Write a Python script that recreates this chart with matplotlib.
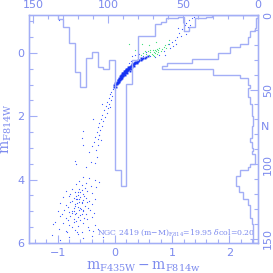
import matplotlib
matplotlib.use('Agg')
import matplotlib.pyplot as plt
from matplotlib.ticker import MultipleLocator

# colour histogram (top, counts hang down from the top edge)
ch_edges = [round(-1.0 + 0.1 * k, 1) for k in range(36)]
ch_counts = [3, 8, 19, 38, 48, 29, 25, 35, 36, 30,
             104, 115, 46, 30, 14, 14, 14, 6, 5, 2,
             2, 1, 11, 8, 2, 2, 1, 0, 0, 0,
             0, 0, 0, 0, 0]

# magnitude histogram (right, counts grow leftwards from the right edge)
mh_edges = [round(-1.2 + 0.1 * k, 1) for k in range(73)]
mh_counts = [0, 1, 1, 1, 2, 5, 5, 7, 7, 12,
             19, 19, 27, 27, 44, 61, 64, 30, 30, 12,
             7, 7, 5, 7, 7, 7, 5, 5, 4, 4,
             4, 4, 3, 3, 3, 4, 4, 4, 4, 5,
             4, 4, 3, 4, 2, 2, 2, 5, 7, 12,
             12, 15, 15, 15, 13, 13, 10, 10, 7, 7,
             5, 5, 5, 5, 4, 4, 3, 3, 3, 3,
             3, 3]

# blue horizontal branch band
hb_col = [0.00, 0.01, 0.02, 0.03, 0.04, 0.05, 0.05, 0.06, 0.07, 0.07, 0.08, 0.09, 0.09, 0.10, 0.10,
          0.11, 0.11, 0.12, 0.12, 0.13, 0.13, 0.14, 0.14, 0.15, 0.15, 0.16, 0.16, 0.17, 0.17, 0.18,
          0.18, 0.19, 0.19, 0.20, 0.20, 0.21, 0.21, 0.22, 0.22, 0.23, 0.23, 0.24, 0.25, 0.25, 0.26,
          0.27, 0.27, 0.28, 0.29, 0.30, 0.30, 0.31, 0.32, 0.33, 0.34, 0.35, 0.36, 0.37, 0.38, 0.40,
          0.41, 0.43, 0.45, 0.47, 0.50, 0.52, 0.55, 0.58,
          0.06, 0.08, 0.12, 0.15, 0.18, 0.22, 0.26, 0.10, 0.14, 0.20, 0.24, 0.30, 0.35, 0.40, 0.45,
          0.33, 0.38, 0.28, 0.02, -0.02, -0.01, 0.04, 0.16, 0.19, 0.11, 0.13, 0.17, 0.21, 0.09, 0.23]
hb_mag = [1.02, 0.95, 0.99, 0.90, 0.94, 0.86, 0.91, 0.84, 0.88, 0.80, 0.83, 0.78, 0.86, 0.75, 0.80,
          0.72, 0.77, 0.70, 0.74, 0.68, 0.73, 0.66, 0.70, 0.64, 0.68, 0.62, 0.66, 0.60, 0.64, 0.58,
          0.62, 0.57, 0.61, 0.55, 0.59, 0.53, 0.57, 0.52, 0.55, 0.50, 0.54, 0.48, 0.47, 0.51, 0.45,
          0.44, 0.48, 0.42, 0.41, 0.39, 0.43, 0.37, 0.36, 0.35, 0.33, 0.32, 0.31, 0.29, 0.28, 0.26,
          0.24, 0.23, 0.21, 0.19, 0.17, 0.15, 0.13, 0.11,
          0.96, 0.92, 0.80, 0.74, 0.70, 0.63, 0.56, 0.70, 0.62, 0.52, 0.44, 0.35, 0.27, 0.21, 0.16,
          0.40, 0.33, 0.50, 1.06, 1.08, 1.00, 0.98, 0.58, 0.54, 0.83, 0.64, 0.56, 0.49, 0.73, 0.45]

# green stars on the red side of the HB
gr_col = [0.45, 0.50, 0.55, 0.58, 0.60, 0.62, 0.65, 0.66, 0.68, 0.70, 0.70, 0.72, 0.74, 0.75, 0.76,
          0.78, 0.80, 0.82, 0.85, 0.88, 0.90, 0.60, 0.48, 0.35, 0.72, 0.95, 0.92, 0.66, 0.73, 0.52,
          0.25, 0.62, 0.68]
gr_mag = [0.05, 0.00, 0.02, -0.05, 0.05, -0.02, 0.02, -0.08, -0.03, 0.00, -0.10, -0.05, -0.12, -0.02, -0.08,
          -0.15, -0.05, -0.12, -0.18, -0.25, -0.15, -0.25, -0.28, -0.10, -0.35, -0.40, -0.30, 0.06, 0.04, -0.05,
          -0.27, -0.10, 0.08]

# bright red stars and upper RGB
rg_col = [0.30, 0.35, 0.40, 0.42, 0.50, 0.55, 0.62, 0.70, 0.78, 0.85, 0.88, 0.95, 0.97, 1.00, 1.02,
          1.05, 1.06, 1.08, 1.12, 1.15, 1.18, 1.20, 1.22, 1.25, 1.27, 1.30, 1.32, 1.35, 1.24, 1.28,
          1.10, 1.38, 0.25, 0.28, -0.98]
rg_mag = [0.10, 0.05, 0.12, 0.02, 0.08, -0.02, 0.10, 0.12, 0.05, -0.05, 0.05, -0.30, -0.15, -0.35, -0.22,
          -0.42, -0.28, -0.50, -0.62, -0.55, -0.75, -0.70, -0.88, -0.95, -0.82, -1.05, -0.90, -1.10, -0.60, -0.70,
          -0.80, -1.15, 0.30, 0.25, -1.05]

# blue tail of the HB
bt_col = [-0.03, -0.06, 0.00, -0.09, -0.05, -0.11, -0.07, -0.14, -0.10, -0.16, -0.12, -0.19, -0.14, -0.22, -0.18,
          -0.25, -0.20, -0.27, -0.23, -0.30, -0.26, -0.32, -0.28, -0.35, -0.30, -0.36, -0.29, -0.40, -0.33, -0.45,
          -0.55, -0.56, -0.57, -0.70, -0.68, -0.42, -0.35, -0.27, -0.38, -0.08, -0.22, -0.31, -0.50, -0.24]
bt_mag = [1.15, 1.22, 1.18, 1.30, 1.36, 1.42, 1.50, 1.55, 1.62, 1.68, 1.75, 1.80, 1.88, 1.95, 2.02,
          2.08, 2.15, 2.22, 2.30, 2.35, 2.42, 2.50, 2.58, 2.65, 2.72, 2.82, 2.90, 2.95, 3.05, 3.12,
          2.45, 2.90, 2.70, 3.40, 3.50, 3.45, 3.48, 2.60, 2.10, 1.70, 1.60, 3.30, 3.60, 2.75]

# extreme HB clump at the bottom
eh_col = [-0.55, -0.45, -0.35, -0.62, -0.28, -0.50,
          -0.68, -0.58, -0.42, -0.52, -0.75, -0.33, -0.62,
          -0.85, -0.70, -0.60, -0.55, -0.48, -0.65, -0.40, -0.78, -0.58,
          -0.90, -0.80, -0.72, -0.66, -0.60, -0.55, -0.50, -0.45, -0.62, -0.75, -0.68, -0.35,
          -0.95, -0.85, -0.78, -0.70, -0.64, -0.58, -0.52, -0.46, -0.60, -0.72, -0.40, -0.66, -0.82,
          -1.00, -0.88, -0.80, -0.74, -0.68, -0.62, -0.56, -0.50, -0.44, -0.70, -0.58, -0.36, -0.92,
          -0.95, -0.86, -0.78, -0.72, -0.65, -0.60, -0.54, -0.48, -0.40, -0.82, -0.68,
          -1.05, -0.90, -0.80, -0.72, -0.64, -0.55, -0.46, -0.35, -0.75,
          -0.98, -0.85, -0.70, -0.58, -0.45, -0.30, -0.65,
          -1.10, -0.80, -0.55, -0.40, -0.20, -0.95, -1.08, -0.84, -0.66, -0.38,
          -0.63, -0.57, -0.53, -0.69, -0.61, -0.49, -0.59, -0.71, -0.64, -0.56, -0.67, -0.74]
eh_mag = [3.92, 3.95, 4.00, 4.05, 4.08, 4.10,
          4.15, 4.18, 4.20, 4.25, 4.28, 4.22, 4.30,
          4.35, 4.38, 4.40, 4.45, 4.35, 4.48, 4.42, 4.45, 4.32,
          4.55, 4.52, 4.58, 4.60, 4.55, 4.65, 4.58, 4.68, 4.70, 4.66, 4.52, 4.62,
          4.75, 4.80, 4.72, 4.78, 4.85, 4.75, 4.82, 4.88, 4.90, 4.88, 4.78, 4.74, 4.86,
          5.00, 4.95, 5.02, 4.98, 5.05, 4.95, 5.00, 5.08, 4.95, 5.10, 5.10, 5.05, 5.08,
          5.15, 5.20, 5.15, 5.25, 5.18, 5.28, 5.20, 5.25, 5.18, 5.28, 5.30,
          5.35, 5.38, 5.42, 5.35, 5.45, 5.38, 5.48, 5.42, 5.50,
          5.55, 5.62, 5.58, 5.65, 5.60, 5.55, 5.72,
          5.75, 5.80, 5.85, 5.78, 5.82, 5.90, 5.40, 5.66, 5.66, 5.63,
          4.62, 4.70, 4.52, 4.84, 5.12, 4.72, 4.92, 5.00, 4.40, 4.96, 4.60, 5.06]

frame_c = '#a3aef6'
text_c = '#7c8aee'
blue_c = '#3f5cff'
dense_c = '#1532f2'
green_c = '#45e07e'

plt.rcParams['font.family'] = 'DejaVu Sans'
plt.rcParams['mathtext.fontset'] = 'dejavuserif'

fig = plt.figure(figsize=(2.73, 2.73), dpi=100)
ax = fig.add_axes([0.106, 0.11, 0.839, 0.835])

ax.plot(hb_col, hb_mag, 's', ms=1.4, mew=0, color=dense_c)
ax.plot(bt_col, bt_mag, 's', ms=0.8, mew=0, color=blue_c)
ax.plot(eh_col, eh_mag, 's', ms=0.8, mew=0, color=blue_c)
ax.plot(rg_col, rg_mag, 's', ms=0.8, mew=0, color=blue_c)
ax.plot(gr_col, gr_mag, 's', ms=0.8, mew=0, color=green_c)

ax.set_xlim(-1.5, 2.5)
ax.set_ylim(6, -1.2)
ax.xaxis.set_major_locator(MultipleLocator(1))
ax.xaxis.set_minor_locator(MultipleLocator(0.2))
ax.yaxis.set_major_locator(MultipleLocator(2))
ax.yaxis.set_minor_locator(MultipleLocator(0.5))
ax.tick_params(which='both', direction='in', colors=frame_c, labelcolor=text_c, labelsize=8)
ax.tick_params(which='major', length=6, width=0.8)
ax.tick_params(which='minor', length=3, width=0.8)
for sp in ax.spines.values():
    sp.set_color(frame_c)
    sp.set_linewidth(1.0)

ax.set_xlabel(r'$\rm m_{F435W} - m_{F814w}$', color=text_c, fontsize=10, labelpad=1)
ax.set_ylabel(r'$\rm m_{F814W}$', color=text_c, fontsize=10, labelpad=2)

ax.text(0.988, 0.045, r'NGC 2419 (m$-$M)$_{\rm F814}$=19.95 $\delta$col=0.20',
        transform=ax.transAxes, ha='right', va='center', color=text_c,
        fontsize=5.6, family='DejaVu Serif')

# colour histogram on a twin axis (counts read on the right)
axr = ax.twinx()
axr.stairs(ch_counts, ch_edges, baseline=0, color=frame_c, linewidth=1.0)
axr.set_ylim(153, 0)
axr.yaxis.set_major_locator(MultipleLocator(50))
axr.yaxis.set_minor_locator(MultipleLocator(10))
axr.tick_params(which='both', direction='in', colors=frame_c, labelcolor=text_c, labelsize=8)
axr.tick_params(which='major', length=6, width=0.8)
axr.tick_params(which='minor', length=3, width=0.8)
for lab in axr.get_yticklabels():
    lab.set_rotation(90)
    lab.set_va('center')
axr.text(1.03, 0.51, 'N', transform=ax.transAxes, ha='center', va='center',
         color=text_c, fontsize=8)

# magnitude histogram on a twin axis (counts read on the top)
axt = ax.twiny()
axt.stairs(mh_counts, mh_edges, baseline=0, orientation='horizontal',
           color=frame_c, linewidth=1.0)
axt.set_xlim(153, 0)
axt.xaxis.set_major_locator(MultipleLocator(50))
axt.xaxis.set_minor_locator(MultipleLocator(10))
axt.tick_params(which='both', direction='in', colors=frame_c, labelcolor=text_c, labelsize=8)
axt.tick_params(which='major', length=6, width=0.8)
axt.tick_params(which='minor', length=3, width=0.8)
for a in (axr, axt):
    for sp in a.spines.values():
        sp.set_color(frame_c)

fig.savefig('out.png', dpi=100)
